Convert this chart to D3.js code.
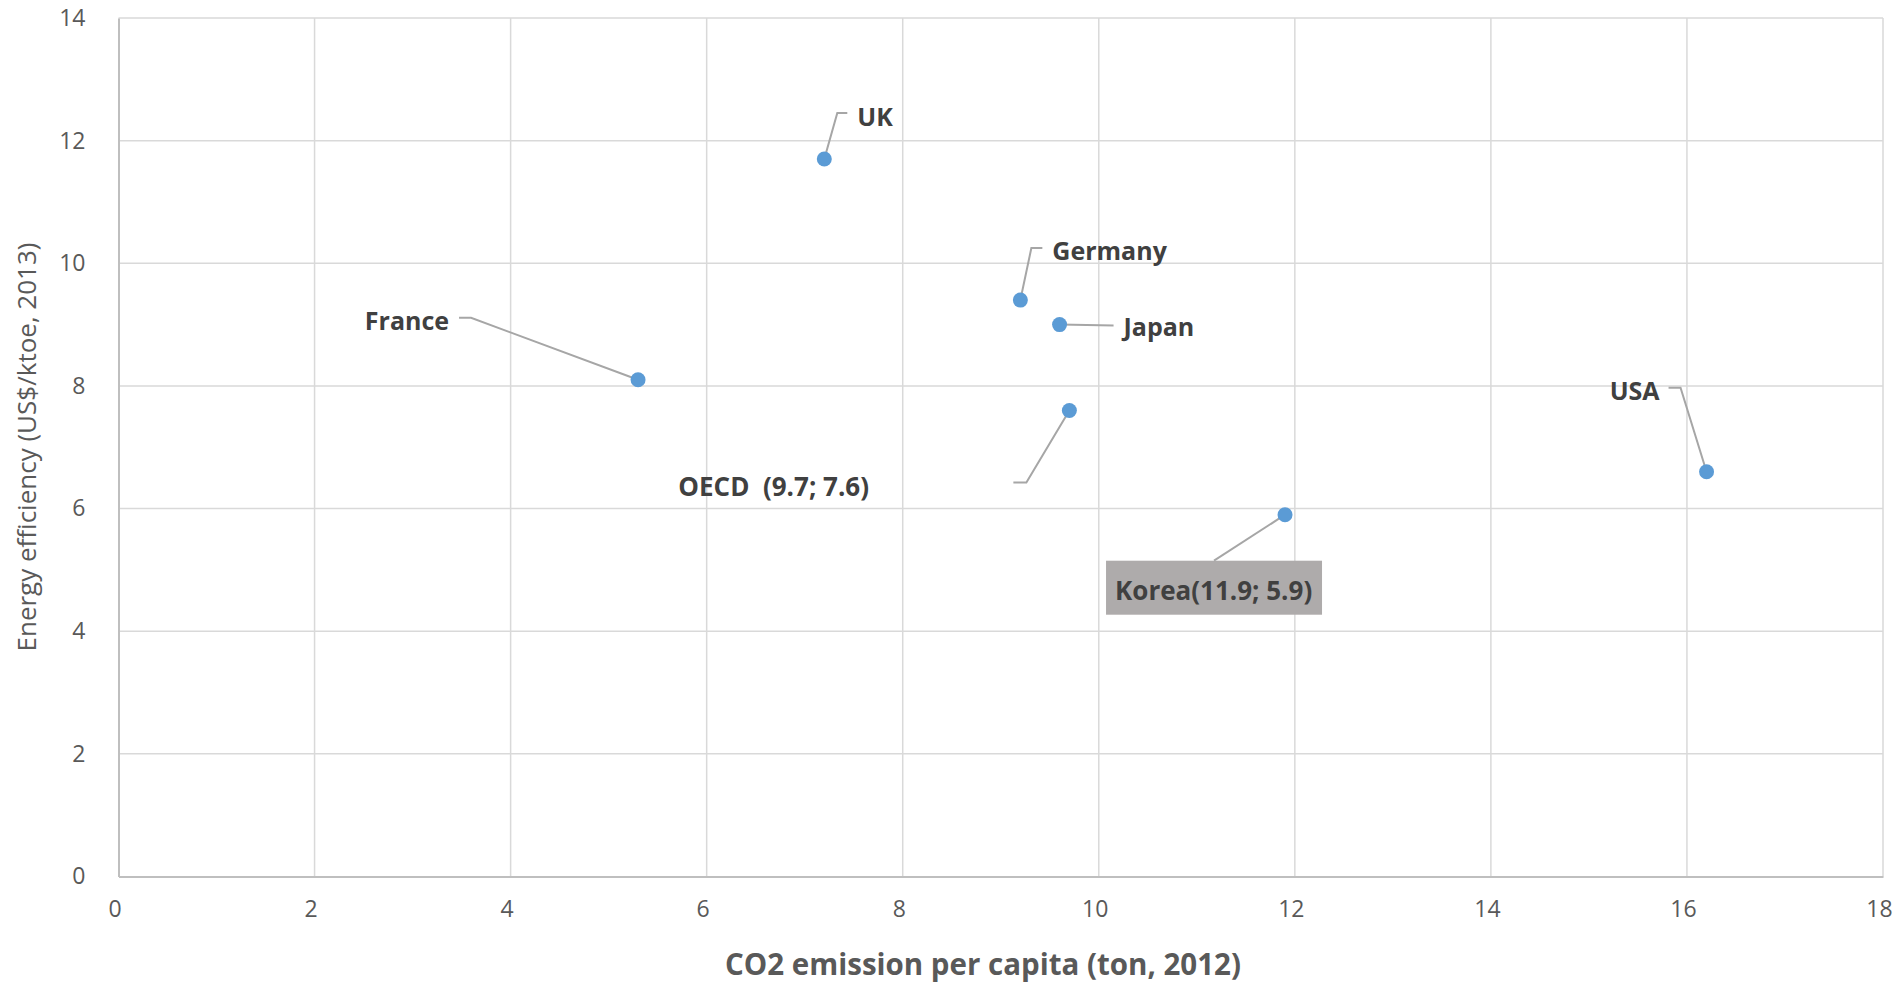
<!DOCTYPE html>
<html>
<head>
<meta charset="utf-8">
<script src="https://cdn.jsdelivr.net/npm/d3@7"></script>
<style>
html, body { margin: 0; padding: 0; background: #fff; }
svg { display: block; font-family: "Open Sans", "Noto Sans", sans-serif; }
</style>
</head>
<body>
<svg id="chart" width="1903" height="986"></svg>
<script>
// ---- data ----
const countries = ["France", "UK", "Germany", "Japan", "OECD", "Korea", "USA"];
const co2PerCapita = [5.3, 7.2, 9.2, 9.6, 9.7, 11.9, 16.2];
const energyEfficiency = [8.1, 11.7, 9.4, 9.0, 7.6, 5.9, 6.6];
const pointLabels = ["France", "UK", "Germany", "Japan", "OECD\u00a0\u00a0(9.7; 7.6)", "Korea(11.9; 5.9)", "USA"];
const xTicks = [0, 2, 4, 6, 8, 10, 12, 14, 16, 18];
const yTicks = [0, 2, 4, 6, 8, 10, 12, 14];
const xTitle = "CO2 emission per capita (ton, 2012)";
const yTitle = "Energy efficiency (US$/ktoe, 2013)";

// ---- label layout (pixel offsets relative to each point) ----
const labelLayout = {
  France:  { tx: -189, ty: -59, anchor: "end",   size: 25, leader: [[-167, -62], [-179, -62]] },
  UK:      { tx: 33,   ty: -42, anchor: "start", size: 25, leader: [[13, -46], [23, -46]] },
  Germany: { tx: 32,   ty: -49, anchor: "start", size: 25, leader: [[11, -52], [22, -52]] },
  Japan:   { tx: 64,   ty: 3,   anchor: "start", size: 25, leader: [[54, 1]] },
  OECD:    { tx: -391, ty: 76,  anchor: "start", size: 26, leader: [[-43, 72], [-56, 72]] },
  Korea:   { tx: -170, ty: 76,  anchor: "start", size: 26, leader: [[-71, 46]], box: { x: -179, y: 46, w: 216, h: 54 } },
  USA:     { tx: -47,  ty: -81, anchor: "end",   size: 25, leader: [[-26, -84], [-38, -84]] }
};

const margin = { left: 118.5, top: 18, right: 1903 - 1883, bottom: 986 - 876.5 };
const W = 1903, H = 986;
const svg = d3.select("#chart");

const x = d3.scaleLinear().domain([0, 18]).range([margin.left, W - margin.right]);
const y = d3.scaleLinear().domain([0, 14]).range([H - margin.bottom, margin.top]);

// gridlines
svg.append("g")
  .selectAll("line.vg").data(xTicks.filter(d => d > 0)).join("line")
  .attr("x1", d => x(d)).attr("x2", d => x(d))
  .attr("y1", y(0)).attr("y2", y(14))
  .attr("stroke", "#d9d9d9").attr("stroke-width", 1.5);
svg.append("g")
  .selectAll("line.hg").data(yTicks.filter(d => d > 0)).join("line")
  .attr("x1", x(0)).attr("x2", x(18))
  .attr("y1", d => y(d)).attr("y2", d => y(d))
  .attr("stroke", "#d9d9d9").attr("stroke-width", 1.5);

// axes
const xAxis = svg.append("g").attr("transform", `translate(0,${y(0)})`)
  .call(d3.axisBottom(x).tickValues(xTicks).tickSize(0).tickPadding(24).tickFormat(d3.format("d")));
const yAxis = svg.append("g").attr("transform", `translate(${x(0)},0)`)
  .call(d3.axisLeft(y).tickValues(yTicks).tickSize(0).tickPadding(33).tickFormat(d3.format("d")));
[xAxis, yAxis].forEach(a => {
  a.select(".domain").attr("stroke", "#bfbfbf").attr("stroke-width", 2);
  a.selectAll("text").attr("fill", "#595959").attr("font-size", 23)
    .attr("font-family", "'Open Sans', sans-serif");
});
xAxis.selectAll(".tick text").attr("dx", -4);

// axis titles
svg.append("text")
  .attr("x", 983).attr("y", 965).attr("dy", "0.35em")
  .attr("text-anchor", "middle")
  .attr("font-size", 29.5).attr("font-weight", "bold").attr("fill", "#595959")
  .text(xTitle);
svg.append("text")
  .attr("transform", `translate(27,447) rotate(-90)`)
  .attr("dy", "0.35em")
  .attr("text-anchor", "middle")
  .attr("font-size", 26).attr("fill", "#595959")
  .text(yTitle);

// data
const points = countries.map((c, i) => ({ name: c, cx: co2PerCapita[i], cy: energyEfficiency[i], label: pointLabels[i] }));

const lab = svg.append("g");
points.forEach(p => {
  const L = labelLayout[p.name];
  const px = x(p.cx), py = y(p.cy);
  if (L.box) {
    lab.append("rect")
      .attr("x", px + L.box.x).attr("y", py + L.box.y)
      .attr("width", L.box.w).attr("height", L.box.h)
      .attr("fill", "#aeabab");
  }
  const pts = [[px, py]].concat(L.leader.map(o => [px + o[0], py + o[1]]));
  lab.append("path")
    .attr("d", d3.line()(pts))
    .attr("fill", "none").attr("stroke", "#a6a6a6").attr("stroke-width", 2);
  lab.append("text")
    .attr("x", px + L.tx).attr("y", py + L.ty).attr("dy", "0.35em")
    .attr("text-anchor", L.anchor)
    .attr("font-size", L.size).attr("font-weight", "bold").attr("fill", "#404040")
    .text(p.label);
});

svg.append("g")
  .selectAll("circle").data(points).join("circle")
  .attr("cx", d => x(d.cx)).attr("cy", d => y(d.cy))
  .attr("r", 7.5).attr("fill", "#5b9bd5");
</script>
</body>
</html>
